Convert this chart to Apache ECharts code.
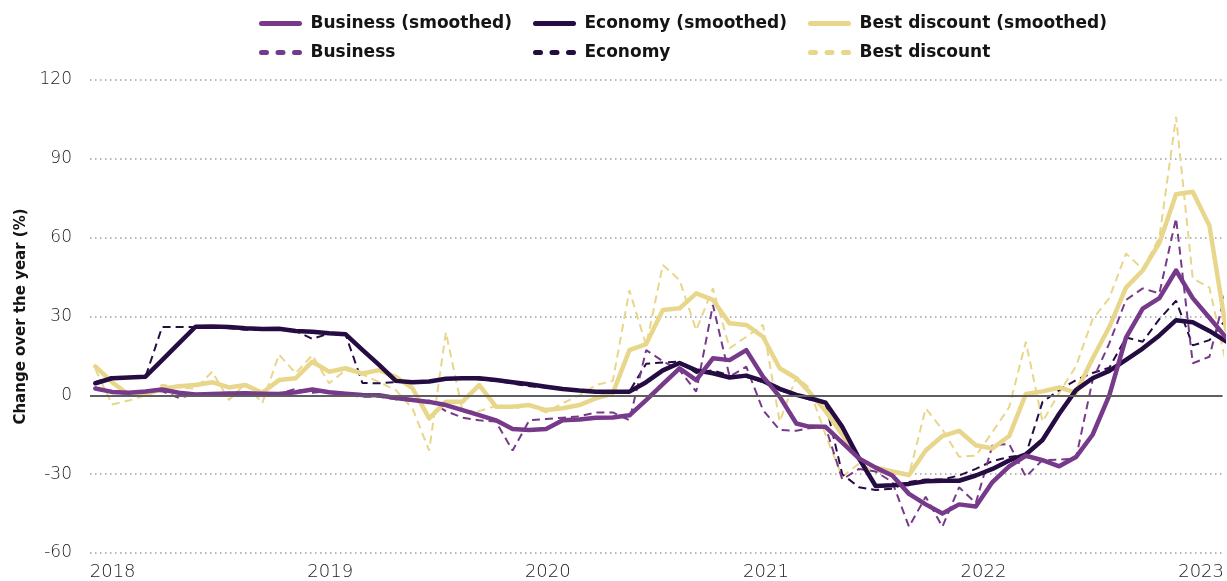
<!DOCTYPE html>
<html>
<head>
<meta charset="utf-8">
<style>
  html, body { margin: 0; padding: 0; background: #fff; }
  #chart { width: 1227px; height: 581px; }
</style>
<script src="https://cdn.jsdelivr.net/npm/echarts@6/dist/echarts.min.js"></script>
</head>
<body>
<div id="chart"></div>
<script>
// four-weekly periods (one three-week step in March 2021)
const dates = [
  '2017-12-03', '2017-12-31', '2018-01-28', '2018-02-25', '2018-03-25', '2018-04-22', '2018-05-20',
  '2018-06-17', '2018-07-15', '2018-08-12', '2018-09-09', '2018-10-07', '2018-11-04', '2018-12-02',
  '2018-12-30', '2019-01-27', '2019-02-24', '2019-03-24', '2019-04-21', '2019-05-19', '2019-06-16',
  '2019-07-14', '2019-08-11', '2019-09-08', '2019-10-06', '2019-11-03', '2019-12-01', '2019-12-29',
  '2020-01-26', '2020-02-23', '2020-03-22', '2020-04-19', '2020-05-17', '2020-06-14', '2020-07-12',
  '2020-08-09', '2020-09-06', '2020-10-04', '2020-11-01', '2020-11-29', '2020-12-27', '2021-01-24',
  '2021-02-21', '2021-03-14', '2021-04-11', '2021-05-09', '2021-06-06', '2021-07-04', '2021-08-01',
  '2021-08-29', '2021-09-26', '2021-10-24', '2021-11-21', '2021-12-19', '2022-01-16', '2022-02-13',
  '2022-03-13', '2022-04-10', '2022-05-08', '2022-06-05', '2022-07-03', '2022-07-31', '2022-08-28',
  '2022-09-25', '2022-10-23', '2022-11-20', '2022-12-18', '2023-01-15', '2023-02-12'
];

const businessSmoothed = [
  2.6, 1.3, 1, 1.5, 2.2, 1, 0.3, 0.5, 0.7, 0.8, 0.6, 0.5, 1.2, 2.2,
  1.2, 0.6, 0.1, 0, -1, -1.8, -2.5, -3.7, -5.6, -7.5, -9.5, -12.8, -13.2, -12.8,
  -9.5, -9.2, -8.5, -8.4, -7.6, -1.8, 4.3, 10.3, 5.8, 14.1, 13.4, 17.2, 7.1, -0.5,
  -10.7, -11.9, -12, -18, -24, -27.5, -30.5, -37.5, -41.5, -45, -41.5, -42.3, -33, -27,
  -23, -24.7, -27, -23.5, -15, 0, 22, 33, 37, 47.5, 37, 29.5, 22
];
const economySmoothed = [
  4.6, 6.5, 6.8, 7.1, 13.4, 19.8, 26.1, 26.2, 26, 25.5, 25.2, 25.3, 24.5, 24.2,
  23.6, 23.2, 17.3, 11.6, 5.5, 5, 5.3, 6.3, 6.5, 6.5, 5.8, 5, 4.2, 3.3,
  2.4, 1.8, 1.4, 1.4, 1.4, 5, 9.5, 12.3, 9.5, 8.4, 6.8, 7.5, 5.5, 2.5,
  0.2, -1, -2.8, -12, -24, -34.5, -34.2, -33.7, -32.7, -32.5, -32.5, -30.5, -28, -24.8,
  -22.5, -17, -7, 2, 6.5, 9.3, 13.5, 17.8, 22.8, 28.6, 27.8, 24.5, 20.5
];
const bestSmoothed = [
  11, 5, 0.3, 0.3, 2.5, 3.5, 3.9, 5, 3, 3.9, 1, 5.8, 6.5, 12.8,
  9, 10.3, 8.3, 9.6, 7, 2.7, -8.8, -2.4, -2.4, 3.9, -4.3, -4.3, -3.7, -5.6,
  -4.9, -3.7, -1.1, 0.8, 17.2, 19.5, 32.5, 33.1, 38.8, 36.3, 27.4, 26.8, 22.3, 10.3,
  6.5, 1.5, -6, -15, -24, -27.5, -29, -30.3, -21, -15.5, -13.5, -19, -20.2, -15.5,
  0.5, 1.5, 3, 1, 14, 26, 41, 47.5, 58, 76.5, 77.5, 64.5, 25
];
const business = [
  3, 1, 0.5, 2, 1.5, -1, 0.5, 0.5, 1, 0.5, 0.3, 0.5, 2.5, 1,
  1.5, 0, -0.5, -0.5, -1.5, -2, -2, -6, -8.5, -9.5, -10, -21, -9.5, -9,
  -8.5, -8, -6.5, -6.5, -9.5, 17.2, 13, 9.6, 1.4, 34.4, 7.1, 10.9, -5.6, -13.2,
  -13.5, -12.5, -12, -32, -28, -29, -33, -50, -38.6, -50, -35, -41, -19, -18.5,
  -31, -24.6, -24.5, -24, 5.8, 19.8, 36.3, 40.7, 38.8, 67.4, 12.2, 14.7, 40
];
const economy = [
  5, 7, 7, 7, 26, 26, 26, 26, 25.5, 25, 25, 25, 24.5, 21.5,
  23.5, 23, 4.7, 4.6, 5, 5.2, 5.5, 6, 6.5, 6, 5.5, 4.5, 3.5, 3,
  2.2, 1.8, 1.5, 1.4, 1.5, 12, 12.5, 12.8, 8.5, 9.5, 7.5, 7, 5, 2,
  0, -1.5, -3, -30, -35, -36, -35.5, -33, -32, -32, -30.5, -28, -25, -23.5,
  -22.5, -2.5, 2, 5.8, 8.5, 10.5, 22, 20.4, 29, 36, 19, 21, 29
];
const best = [
  10, -3.5, -2, 0, 4, 3, 2.5, 9, -1.8, 4.6, -3, 15.5, 8.4, 15.3,
  4.6, 9.6, 8, 5, 2, -5, -21, 24, -6, -6, -4, -5, -4, -6.5,
  -3, 0, 3.9, 5.5, 40, 19, 49.6, 43.9, 24.8, 40.7, 17.9, 22.3, 26.8, -10,
  7, 3, -15, -31, -26, -29, -29.5, -30.3, -5, -13, -23.4, -23, -14, -4.5,
  20.4, -10, 1, 11, 29, 37, 54, 48, 60, 106, 44.5, 41, 12
];

const yTicks = [-60, -30, 0, 30, 60, 90, 120];

const PURPLE = '#773a8a';
const DARK = '#250c42';
const YELLOW = '#e8d68a';

const pairs = (vals) => dates.map((d, i) => [d, vals[i]]);

const solid = (name, vals, color) => ({
  name, type: 'line', data: pairs(vals), symbol: 'none',
  lineStyle: { color, width: 4.5, join: 'round', cap: 'round' },
  itemStyle: { color }, z: 3
});
const dashed = (name, vals, color) => ({
  name, type: 'line', data: pairs(vals), symbol: 'none',
  lineStyle: { color, width: 2, type: [8, 5] },
  itemStyle: { color }, z: 2
});

const legendText = { fontFamily: 'DejaVu Sans', fontWeight: 'bold', fontSize: 17, color: '#141414', padding: [0, 0, 0, 6] };
const legendItem = (name, isDashed) => ({
  name,
  itemStyle: { opacity: 0 },
  lineStyle: isDashed ? { width: 5, type: [5, 11.5], cap: 'round' } : { width: 5, cap: 'round' }
});
const legendAt = (left, names) => ({
  left, top: 15, padding: 0, orient: 'vertical', itemWidth: 38, itemHeight: 14, itemGap: 12,
  textStyle: legendText, selectedMode: false,
  data: [legendItem(names[0], false), legendItem(names[1], true)]
});

const chart = echarts.init(document.getElementById('chart'));
const bestDashed = dashed('Best discount', best, YELLOW);
bestDashed.markLine = {
  silent: true, symbol: 'none', label: { show: false },
  lineStyle: { color: '#5e5e5e', width: 2, type: 'solid' },
  data: [{ yAxis: 0 }]
};

chart.setOption({
  animation: false,
  textStyle: { fontFamily: 'DejaVu Sans' },
  legend: [
    legendAt(259, ['Business (smoothed)', 'Business']),
    legendAt(533, ['Economy (smoothed)', 'Economy']),
    legendAt(808, ['Best discount (smoothed)', 'Best discount'])
  ],
  grid: { left: 90, right: 0, top: 80, bottom: 28 },
  xAxis: {
    type: 'time',
    min: '2017-11-24',
    max: '2023-02-06',
    axisLine: { show: false },
    axisTick: { show: false },
    splitLine: { show: false },
    axisLabel: {
      fontFamily: 'DejaVu Sans', fontSize: 18, color: '#222', fontWeight: 200, margin: 10,
      formatter: (v) => {
        const d = new Date(v);
        return (d.getMonth() === 0 && d.getDate() === 1) ? String(d.getFullYear()) : '';
      }
    }
  },
  yAxis: {
    type: 'value',
    min: yTicks[0], max: yTicks[yTicks.length - 1], interval: 30,
    name: 'Change over the year (%)',
    nameLocation: 'middle', nameGap: 60,
    nameTextStyle: { fontFamily: 'DejaVu Sans', fontWeight: 'bold', fontSize: 15, color: '#141414' },
    axisLine: { show: false },
    axisTick: { show: false },
    axisLabel: { fontFamily: 'DejaVu Sans', fontSize: 17, color: '#222', fontWeight: 200, margin: 18 },
    splitLine: { lineStyle: { color: '#a0a0a0', width: 1.5, type: [1.5, 3.5] } }
  },
  series: [
    bestDashed,
    dashed('Economy', economy, DARK),
    dashed('Business', business, PURPLE),
    solid('Best discount (smoothed)', bestSmoothed, YELLOW),
    solid('Economy (smoothed)', economySmoothed, DARK),
    solid('Business (smoothed)', businessSmoothed, PURPLE)
  ]
});
</script>
</body>
</html>
